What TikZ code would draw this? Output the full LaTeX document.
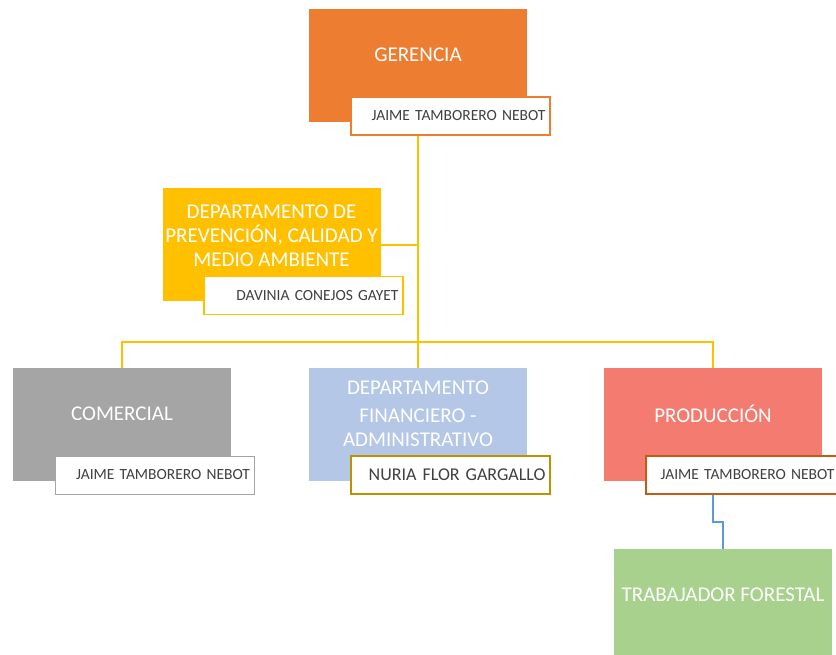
\documentclass[tikz,border=0pt]{standalone}
\usepackage{fontspec}
\setmainfont{Carlito}
\definecolor{cger}{HTML}{ED7D31}
\definecolor{cprev}{HTML}{FFC000}
\definecolor{ccom}{HTML}{A5A5A5}
\definecolor{cfin}{HTML}{B4C7E7}
\definecolor{cfinline}{HTML}{BF9000}
\definecolor{cprod}{HTML}{F47B6F}
\definecolor{cprodline}{HTML}{C55A11}
\definecolor{ctrab}{HTML}{A9D18E}
\definecolor{clink}{HTML}{5B9BD5}
\definecolor{txtgray}{HTML}{404040}
\newcommand{\ttlfont}{\fontsize{21}{24}\selectfont}
\newcommand{\stafffont}{\fontsize{15.5}{17}\selectfont}

\tikzstyle{unit} = [minimum width=218pt, minimum height=113pt, inner sep=0pt]
\tikzstyle{ttl} = [text=white, font=\ttlfont, align=center, yshift=11pt]
\tikzstyle{staff} = [fill=white, line width=1.3pt, text=txtgray, font=\stafffont,
    text width=190pt, align=right, inner xsep=4.5pt, inner ysep=0pt,
    minimum width=199pt, minimum height=38pt]
\tikzstyle{tie} = [draw=cprev, line width=2pt]

\begin{document}
\begin{tikzpicture}[x=1pt, y=-1pt]
\clip (0,0) rectangle (836,654);
% top
\node[unit, fill=cger, label={[ttl]center:GERENCIA}] (ger) at (418,65.5) {};
\node[staff, draw=cger] (gername) at (450.5,116) {JAIME TAMBORERO NEBOT};
% staff unit
\node[unit, fill=cprev, label={[ttl, yshift=-2.5pt]center:DEPARTAMENTO DE\\PREVENCIÓN, CALIDAD Y\\MEDIO AMBIENTE}] (prev) at (271.5,244.5) {};
\node[staff, draw=cprev] (prevname) at (303.5,295.5) {DAVINIA CONEJOS GAYET};
% departments
\node[unit, fill=ccom, label={[ttl]center:COMERCIAL}] (com) at (122,424.5) {};
\node[staff, draw=ccom, line width=1pt] (comname) at (155,475) {JAIME TAMBORERO NEBOT};
\node[unit, fill=cfin, label={[ttl]center:DEPARTAMENTO\\[4pt]FINANCIERO -\\ADMINISTRATIVO}] (fin) at (418,424.5) {};
\node[staff, draw=cfinline, font=\fontsize{18}{20}\selectfont] (finname) at (450.5,475) {NURIA FLOR GARGALLO};
\node[unit, fill=cprod, label={[ttl]center:PRODUCCIÓN}] (prod) at (713,424.5) {};
\node[staff, draw=cprodline, text width=178pt] (prodname) at (745.5,475) {JAIME TAMBORERO NEBOT};
\node[unit, fill=ctrab, label={[ttl]center:TRABAJADOR FORESTAL}] (trab) at (723,605.5) {};
% connectors
\coordinate (bus) at (0,342);
\coordinate (elbow) at (0,522);
\draw[tie] (ger |- gername.south) -- (ger |- bus);
\draw[tie] (prev.east) -- (prev.east -| ger);
\draw[tie] (com.north) -- (com |- bus) -- (prod |- bus) -- (prod.north);
\draw[tie] (ger |- bus) -- (fin.north);
\draw[draw=clink, line width=2pt] (prod |- prodname.south) -- (prod |- elbow) -- (trab |- elbow) -- (trab.north);
\end{tikzpicture}
\end{document}
